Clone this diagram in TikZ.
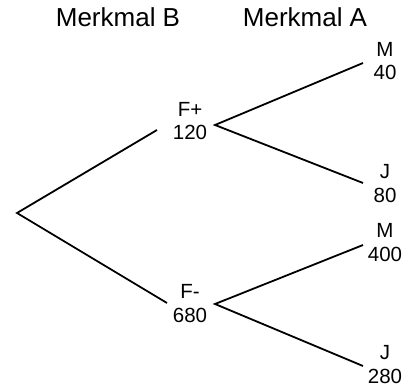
\documentclass[tikz,border=0pt]{standalone}
\usepackage{fontspec}
\setmainfont{Liberation Sans}
\usetikzlibrary{calc}

\tikzset{
  head/.style={anchor=base, font=\fontsize{26}{30}\selectfont},
  lbl/.style={anchor=base, align=center, inner sep=0pt, font=\fontsize{20.5}{23.5}\selectfont},
  branch/.style={line width=1.8pt}
}

\begin{document}
\begin{tikzpicture}[x=1pt, y=-1pt]
  \useasboundingbox (0,0) rectangle (406,387);

  % Column headings
  \node[head] (headB) at (118,27) {Merkmal B};
  \node[head] (headA) at (305,27) {Merkmal A};

  % Root of the tree
  \coordinate (root) at (17,213);

  % First stage (base = baseline of the number)
  \node[lbl] (fplus) at (190,140) {F+\\120};
  \node[lbl] (fminus) at (190,322) {F-\\680};

  % Second stage
  \node[lbl] (m40) at (385,80) {M\\40};
  \node[lbl] (j80) at (385,202) {J\\80};
  \node[lbl] (m400) at (385,261) {M\\400};
  \node[lbl] (j280) at (385,383) {J\\280};

  % Branches
  \draw[branch] ([shift={(-33,-10)}]fplus.base) -- (root) -- ([shift={(-23,-19)}]fminus.base);
  \draw[branch] ([shift={(-22,-17)}]m40.base) -- ([shift={(25,-15)}]fplus.base) -- ([shift={(-22,-19)}]j80.base);
  \draw[branch] ([shift={(-22,-16)}]m400.base) -- ([shift={(25,-18)}]fminus.base) -- ([shift={(-22,-17)}]j280.base);
\end{tikzpicture}
\end{document}
